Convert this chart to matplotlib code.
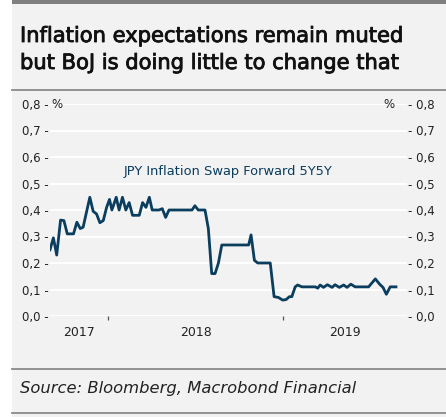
import matplotlib
matplotlib.use('Agg')
import matplotlib.pyplot as plt
import matplotlib.dates as mdates
import matplotlib.transforms as mtransforms
import matplotlib.patheffects as pe
from matplotlib.patches import Rectangle
from matplotlib.lines import Line2D
import pandas as pd

# ---------------- data ----------------
dates = ["2017-09-02", "2017-09-09", "2017-09-16", "2017-09-24", "2017-10-01", "2017-10-08",
         "2017-10-21", "2017-10-28", "2017-11-04", "2017-11-10", "2017-11-24", "2017-12-01",
         "2017-12-08", "2017-12-15", "2017-12-22", "2017-12-29", "2018-01-04", "2018-01-09",
         "2018-01-18", "2018-01-24", "2018-01-31", "2018-02-07", "2018-02-14", "2018-02-21",
         "2018-03-07", "2018-03-14", "2018-03-21", "2018-03-28", "2018-04-03", "2018-04-17",
         "2018-04-24", "2018-05-01", "2018-05-08", "2018-06-25", "2018-07-01", "2018-07-08",
         "2018-07-22", "2018-07-29", "2018-08-05", "2018-08-12", "2018-08-19", "2018-08-26",
         "2018-10-21", "2018-10-26", "2018-11-02", "2018-11-09", "2018-12-05", "2018-12-13",
         "2018-12-22", "2018-12-31", "2019-01-07", "2019-01-14", "2019-01-19", "2019-01-26",
         "2019-01-31", "2019-02-09", "2019-03-09", "2019-03-14", "2019-03-19", "2019-03-26",
         "2019-04-03", "2019-04-13", "2019-04-19", "2019-04-28", "2019-05-07", "2019-05-14",
         "2019-05-22", "2019-05-31", "2019-06-28", "2019-07-12", "2019-07-21", "2019-07-28",
         "2019-08-04", "2019-08-12", "2019-08-24"]
values = [0.25, 0.295, 0.23, 0.362, 0.36, 0.31,
          0.31, 0.354, 0.33, 0.335, 0.448, 0.395,
          0.385, 0.352, 0.36, 0.41, 0.44, 0.40,
          0.448, 0.40, 0.448, 0.40, 0.428, 0.38,
          0.38, 0.428, 0.41, 0.448, 0.40, 0.40,
          0.405, 0.372, 0.40, 0.40, 0.416, 0.40,
          0.40, 0.33, 0.16, 0.16, 0.20, 0.268,
          0.268, 0.306, 0.21, 0.20, 0.20, 0.073,
          0.07, 0.06, 0.062, 0.073, 0.073, 0.11,
          0.117, 0.11, 0.11, 0.105, 0.117, 0.108,
          0.118, 0.108, 0.118, 0.108, 0.117, 0.108,
          0.12, 0.11, 0.11, 0.14, 0.12, 0.108,
          0.082, 0.11, 0.11]
y_ticks = [0.0, 0.1, 0.2, 0.3, 0.4, 0.5, 0.6, 0.7, 0.8]
years = [2017, 2018, 2019]
x_range = ["2017-09-02", "2019-09-16"]
title_lines = ["Inflation expectations remain muted", "but BoJ is doing little to change that"]
series_name = "JPY Inflation Swap Forward 5Y5Y"
source_text = "Source: Bloomberg, Macrobond Financial"
unit = "%"

# ---------------- layout ----------------
W, H = 446, 417
BG = '#f2f2f2'
LINE_C = '#0b3d5e'
TXT = '#222222'
plt.rcParams['font.family'] = ['DejaVu Sans']

fig = plt.figure(figsize=(W / 100, H / 100), dpi=100, facecolor='white')


def fx(px):
    return px / W


def fy(py):
    return 1 - py / H


fig.patches.append(Rectangle((fx(12), 0), 1 - fx(12), 1, transform=fig.transFigure,
                             facecolor=BG, edgecolor='none', zorder=-10))
fig.patches.append(Rectangle((fx(12), fy(4)), 1 - fx(12), 4 / H, transform=fig.transFigure,
                             facecolor='#808080', edgecolor='none', zorder=-9))
for py in (90, 369, 413):
    fig.lines.append(Line2D([fx(12), 1], [fy(py), fy(py)], transform=fig.transFigure,
                            color='#8a8a8a', lw=1.3, zorder=-9))

renderer = fig.canvas.get_renderer()


def fit(t, target_px):
    w = t.get_window_extent(renderer).width
    t.set_fontsize(t.get_fontsize() * target_px / w)


thick = [pe.withStroke(linewidth=0.6, foreground='#111111')]
t1 = fig.text(fx(20), fy(42), title_lines[0], fontsize=14, color='#111111',
              va='baseline', ha='left', path_effects=thick)
fit(t1, 384)
t2 = fig.text(fx(20), fy(69), title_lines[1], fontsize=t1.get_fontsize(), color='#111111',
              va='baseline', ha='left', path_effects=thick)
ts = fig.text(fx(20), fy(393), source_text, fontsize=11, style='italic', color=TXT,
              va='baseline', ha='left')
fit(ts, 337)

# ---------------- axes ----------------
ax = fig.add_axes([fx(50), fy(316), fx(407) - fx(50), (316 - 104) / H])
ax.set_facecolor(BG)
x = mdates.date2num(pd.to_datetime(dates))
ax.plot(x, values, color=LINE_C, lw=2.0, solid_joinstyle='round', zorder=3)

x0, x1 = mdates.date2num(pd.to_datetime(x_range))
ax.set_xlim(x0, x1)
ax.set_ylim(y_ticks[0], y_ticks[-1])
for s in ax.spines.values():
    s.set_visible(False)

ax.set_yticks(y_ticks)
ax.yaxis.grid(True, color='white', lw=1.4)
ax.set_axisbelow(True)
ax.set_yticklabels([f"{v:.1f}".replace('.', ',') + " -" for v in y_ticks])
ax.tick_params(axis='y', length=0, pad=1, labelsize=8.5, labelcolor=TXT)

ax2 = ax.twinx()
ax2.set_ylim(y_ticks[0], y_ticks[-1])
ax2.set_yticks(y_ticks)
ax2.set_yticklabels(["- " + f"{v:.1f}".replace('.', ',') for v in y_ticks])
ax2.tick_params(axis='y', length=0, pad=1, labelsize=8.5, labelcolor=TXT)
for s in ax2.spines.values():
    s.set_visible(False)

# x axis: year boundaries as major ticks, year names centred on visible part of year
bounds = [mdates.date2num(pd.Timestamp(f"{y}-01-01")) for y in years[1:]]
ax.set_xticks(bounds)
ax.set_xticklabels([''] * len(bounds))
ax.tick_params(axis='x', which='major', length=3, width=0.9, color='#555555')
mids = []
for y in years:
    a = max(x0, mdates.date2num(pd.Timestamp(f"{y}-01-01")))
    b = min(x1, mdates.date2num(pd.Timestamp(f"{y + 1}-01-01")))
    mids.append((a + b) / 2)
ax.set_xticks(mids, minor=True)
ax.set_xticklabels([str(y) for y in years], minor=True)
ax.tick_params(axis='x', which='minor', length=0, pad=7, labelsize=9, labelcolor=TXT)

trans = mtransforms.blended_transform_factory(ax.transAxes, ax.transData)
ax.text(0.004, y_ticks[-1], unit, transform=trans, ha='left', va='center', fontsize=8.5,
        color=TXT)
ax.text(0.95, y_ticks[-1], unit, transform=trans, ha='center', va='center', fontsize=8.5,
        color=TXT)
tl = ax.text(0.5, 0.545, series_name, transform=trans, ha='center', va='center',
             fontsize=8, color=LINE_C)
fit(tl, 210)

fig.savefig('out.png', dpi=100, facecolor='white')
